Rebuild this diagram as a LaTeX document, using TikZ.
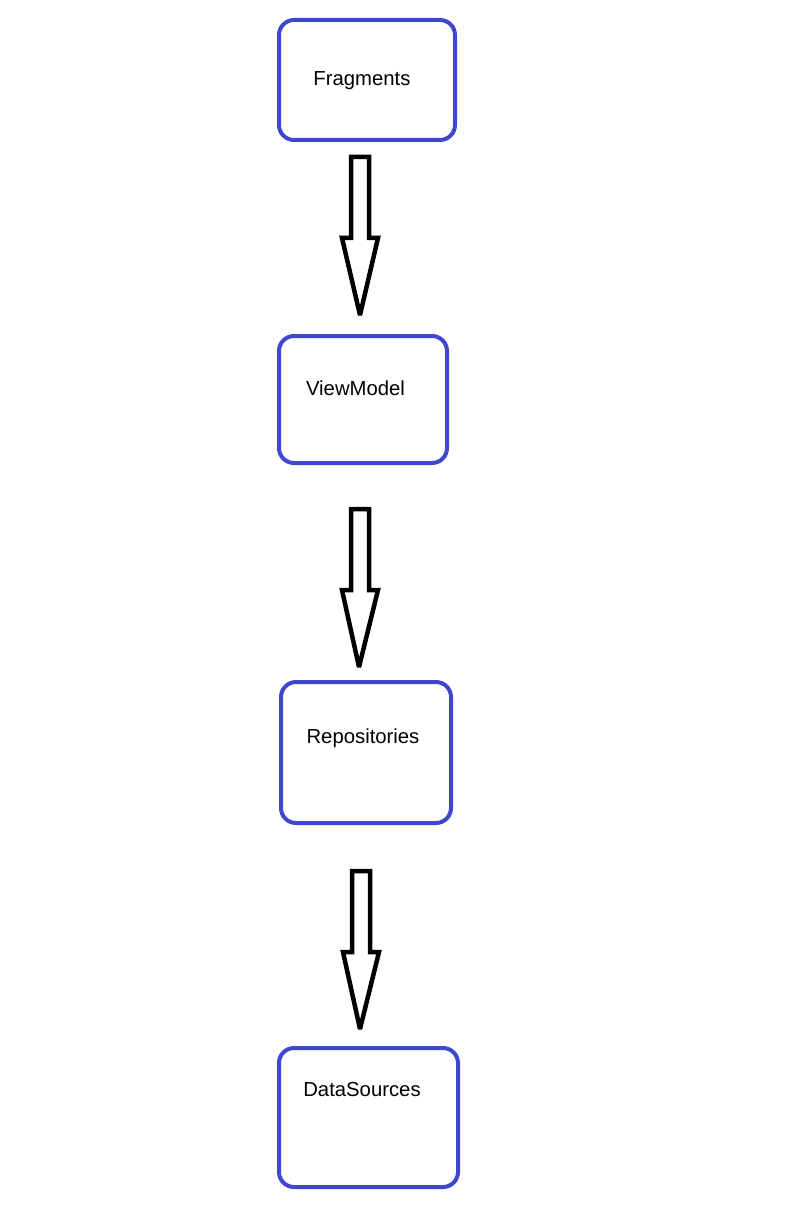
\documentclass[tikz,border=0pt]{standalone}
\usepackage{fontspec}
\setmainfont{Liberation Sans}
\usetikzlibrary{calc}
\definecolor{boxblue}{RGB}{63,72,204}
\begin{document}
\begin{tikzpicture}[x=1pt,y=-1pt,
  box/.style={draw=boxblue,line width=4pt,rounded corners=15pt,inner sep=0pt},
  lbl/.style={font=\fontsize{20.3}{24}\selectfont,inner sep=0pt},
  blockarrow/.style={draw=black,line width=4.5pt,line join=miter,miter limit=2}]
\useasboundingbox (0,0) rectangle (787,1206);
\node[box,minimum width=176pt,minimum height=120pt] (b1) at (367,80) {};
\node[box,minimum width=168pt,minimum height=127pt] (b2) at (363,399.5) {};
\node[box,minimum width=170pt,minimum height=141pt] (b3) at (366,752.5) {};
\node[box,minimum width=179pt,minimum height=139pt] (b4) at (368.5,1117.5) {};
\node[lbl] (t1) at (362,81) {Fragments};
\node[lbl] (t2) at (355.5,388) {ViewModel};
\node[lbl] (t3) at (363,738) {Repositories};
\node[lbl] (t4) at (362,1089) {DataSources};
\coordinate (a1) at (360,157); \coordinate (a1t) at (360,315);
\coordinate (a2) at (360,509); \coordinate (a2t) at (359,667);
\coordinate (a3) at (361,871); \coordinate (a3t) at (360,1029);
\foreach \s/\t in {a1/a1t,a2/a2t,a3/a3t}{
  \draw[blockarrow] ($(\s)+(-9,0)$) -- ($(\s)+(9,0)$) -- ($(\s)+(9,81)$) -- ($(\s)+(18,81)$)
    -- (\t) -- ($(\s)+(-18,81)$) -- ($(\s)+(-9,81)$) -- cycle;
}
\end{tikzpicture}
\end{document}
